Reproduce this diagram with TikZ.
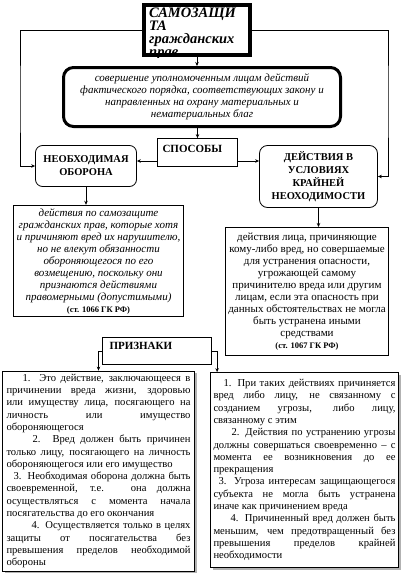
\documentclass[tikz,border=0pt]{standalone}
\usepackage{fontspec}
\setmainfont{Liberation Serif}
\usetikzlibrary{arrows.meta,positioning,calc,shadows}
\tikzset{
  box/.style={draw,line width=0.8pt,inner sep=3pt},
  capbox/.style={box,rounded corners=7pt,align=center,
    font=\fontsize{10.5}{13}\selectfont\bfseries},
  headbox/.style={box,align=left,inner xsep=5pt,
    font=\fontsize{11}{12}\selectfont\bfseries},
  defbox/.style={box,align=center,font=\fontsize{11}{12}\selectfont\itshape},
  textbox/.style={box,align=center,font=\fontsize{11}{12}\selectfont},
  listbox/.style={box,fill=white,align=justify,inner xsep=3pt,
    font=\fontsize{10.6}{12.3}\selectfont,
    drop shadow={shadow xshift=2pt,shadow yshift=-2pt,fill=gray!60,opacity=1}},
  fl/.style={-{Stealth[length=4pt,width=3.5pt]},line width=0.7pt},
}
\newcommand{\gk}[1]{{\upshape\bfseries\fontsize{8.5}{12}\selectfont #1}}
\begin{document}
\begin{tikzpicture}[x=1pt,y=-1pt]
  \useasboundingbox (0,0) rectangle (402,573);
  % title
  \node[draw,line width=4pt,minimum width=106pt,minimum height=50pt] (title) at (197,30) {};
  \begin{scope}
    \clip (title.north west) rectangle (title.south east);
    \node[anchor=north west,inner sep=0pt,align=left,
      font=\fontsize{14.5}{13}\selectfont\bfseries\itshape] (titletext) at (149,8)
      {САМОЗАЩИ\\ТА\\гражданских\\прав};
  \end{scope}
  % definition
  \node[defbox,line width=3pt,rounded corners=10pt,minimum width=277pt,minimum height=59pt]
    (def) at (202,97) {совершение уполномоченным лицам действий\\
    фактического порядка, соответствующих закону и\\
    направленных на охрану материальных и\\нематериальных благ};
  \node[headbox,minimum width=80pt,text width=70pt,text height=11.5pt,text depth=12.5pt,
    inner ysep=2pt] (ways) at (197.5,152.5) {СПОСОБЫ};
  \node[capbox,minimum width=101pt,minimum height=41pt] (defence) at (86,166)
    {НЕОБХОДИМАЯ\\ОБОРОНА};
  \node[capbox,rounded corners=8pt,minimum width=118pt,minimum height=62pt] (necess) at (318.5,176.5)
    {ДЕЙСТВИЯ В\\УСЛОВИЯХ\\КРАЙНЕЙ\\НЕОХОДИМОСТИ};
  \node[defbox,minimum width=168pt,minimum height=107pt] (deftext) at (98.5,261)
    {действия по самозащите\\гражданских прав, которые хотя\\
    и причиняют вред их нарушителю,\\но не влекут обязанности\\
    обороняющегося по его\\возмещению, поскольку они\\
    признаются действиями\\правомерными (допустимыми)\\\gk{(ст. 1066 ГК РФ)}};
  \node[textbox,line width=1pt,minimum width=161pt,minimum height=128pt] (nectext) at (307,291.5)
    {действия лица, причиняющие\\кому-либо вред, но совершаемые\\
    для устранения опасности,\\угрожающей самому\\
    причинителю вреда или другим\\лицам, если эта опасность при\\
    данных обстоятельствах не могла\\быть устранена иными\\
    средствами\\\gk{(ст. 1067 ГК РФ)}};
  \node[headbox,minimum width=109pt,text width=95pt,text height=10pt,text depth=13pt,
    inner ysep=2pt,inner xsep=7pt] (signs) at (157,351) {ПРИЗНАКИ};
  % signs lists
  \node[listbox,minimum width=192pt,minimum height=197pt,text width=184pt] (deflist) at (98.5,471)
    {\hspace*{16pt}1. Это действие, заключающееся в\linebreak
    причинении вреда жизни, здоровью\linebreak
    или имуществу лица, посягающего на\linebreak
    личность или имущество\linebreak
    обороняющегося\par
    \hspace*{26pt}2. Вред должен быть причинен\linebreak
    только лицу, посягающего на личность\linebreak
    обороняющегося или его имущество\par
    \hspace*{7pt}3. Необходимая оборона должна быть\linebreak
    своевременной, т.е. она должна\linebreak
    осуществляться с момента начала\linebreak
    посягательства до его окончания\par
    \hspace*{25pt}4. Осуществляется только в целях\linebreak
    защиты от посягательства без\linebreak
    превышения пределов необходимой\linebreak
    обороны};
  \node[listbox,minimum width=186pt,minimum height=195pt,text width=182pt] (neclist) at (304.5,470)
    {\hspace*{10pt}1. При таких действиях причиняется\linebreak
    вред либо лицу, не связанному с\linebreak
    созданием угрозы, либо лицу,\linebreak
    связанному с этим\par
    \hspace*{18pt}2. Действия по устранению угрозы\linebreak
    должны совершаться своевременно – с\linebreak
    момента ее возникновения до ее\linebreak
    прекращения\par
    \hspace*{5pt}3. Угроза интересам защищающегося\linebreak
    субъекта не могла быть устранена\linebreak
    иначе как причинением вреда\par
    \hspace*{17pt}4. Причиненный вред должен быть\linebreak
    меньшим, чем предотвращенный без\linebreak
    превышения пределов крайней\linebreak
    необходимости\par\vspace*{10pt}};
  % connectors
  \coordinate (lturn) at (20,100);
  \coordinate (rturn) at (388,100);
  \draw[fl] (title.west) -| (lturn) |- (defence.west);
  \draw[fl] (title.east) -| (rturn) |- (necess.east);
  \draw[fl] (title.south) -- (title.south |- def.north);
  \draw[fl] (ways.north |- def.south) -- (ways.north);
  \draw[fl] ([yshift=-8.5pt]ways.west) -- ([yshift=-8.5pt]ways.west -| defence.east);
  \draw[fl] ([yshift=-8.5pt]ways.east) -- ([yshift=-8.5pt]ways.east -| necess.west);
  \draw[fl] (defence.south) -- (defence.south |- deftext.north);
  \draw[fl] (necess.south) -- (necess.south |- nectext.north);
  \draw[fl] (signs.west) -| (deflist.north);
  \draw[fl] (signs.east) -| ([xshift=7pt]neclist.north west);
\end{tikzpicture}
\end{document}
